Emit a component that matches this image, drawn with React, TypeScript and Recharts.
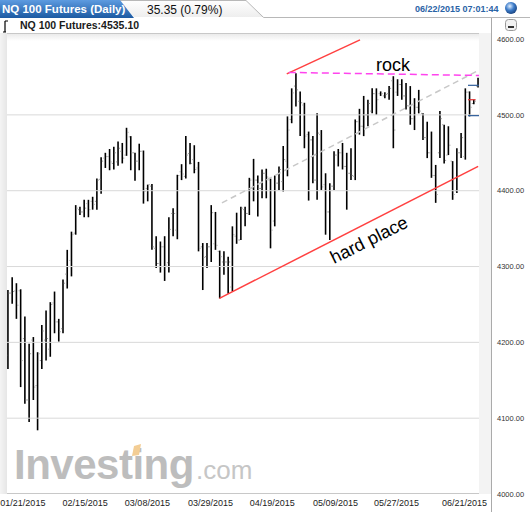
import { ComposedChart, Bar, XAxis, YAxis, ReferenceLine } from 'recharts';

// daily OHLC (index 0 = 01/21/2015)
const opens = [
  4183, 4265, 4268, 4268, 4205, 4124, 4203, 4143, 4176, 4203, 4191, 4252, 4227, 4218, 4290, 4308,
  4344, 4375, 4372, 4383, 4386, 4386, 4415, 4443, 4445, 4436, 4438, 4452, 4447, 4471, 4450, 4439,
  4452, 4403, 4406, 4324, 4304, 4326, 4305, 4370, 4348, 4425, 4419, 4449, 4441, 4430, 4326, 4313,
  4326, 4330, 4320, 4306, 4306, 4273, 4340, 4335, 4375, 4370, 4403, 4414, 4403, 4423, 4414, 4360,
  4410, 4412, 4439, 4494, 4538, 4518, 4513, 4474, 4467, 4414, 4474, 4408, 4372, 4406, 4447, 4450,
  4432, 4423, 4419, 4491, 4485, 4500, 4505, 4528, 4528, 4525, 4528, 4545, 4530, 4540, 4525, 4512,
  4495, 4510, 4502, 4470, 4450, 4420, 4450, 4487, 4447, 4439, 4400, 4450, 4445, 4530, 4515, 4538,
];
const highs = [
  4269, 4286, 4278, 4270, 4234, 4198, 4207, 4187, 4223, 4242, 4253, 4267, 4231, 4283, 4322, 4346,
  4381, 4379, 4388, 4388, 4392, 4416, 4444, 4450, 4455, 4458, 4465, 4463, 4483, 4472, 4450, 4462,
  4453, 4408, 4409, 4340, 4333, 4340, 4365, 4377, 4421, 4435, 4472, 4463, 4460, 4438, 4331, 4331,
  4381, 4372, 4321, 4320, 4313, 4353, 4371, 4379, 4379, 4417, 4442, 4420, 4428, 4429, 4416, 4420,
  4432, 4459, 4498, 4535, 4555, 4531, 4516, 4478, 4472, 4502, 4480, 4423, 4410, 4452, 4455, 4463,
  4450, 4456, 4494, 4508, 4525, 4520, 4535, 4535, 4531, 4530, 4538, 4551, 4547, 4547, 4542, 4538,
  4522, 4533, 4502, 4491, 4478, 4434, 4505, 4487, 4485, 4439, 4456, 4476, 4535, 4531, 4520, 4549,
];
const lows = [
  4165, 4251, 4231, 4141, 4119, 4095, 4124, 4084, 4165, 4176, 4181, 4212, 4201, 4212, 4271, 4287,
  4342, 4368, 4365, 4365, 4375, 4375, 4396, 4430, 4427, 4428, 4433, 4436, 4446, 4427, 4413, 4427,
  4383, 4386, 4322, 4298, 4292, 4281, 4292, 4340, 4336, 4414, 4416, 4435, 4423, 4320, 4269, 4298,
  4306, 4322, 4258, 4289, 4264, 4267, 4330, 4335, 4353, 4368, 4386, 4366, 4390, 4390, 4324, 4353,
  4401, 4399, 4419, 4489, 4511, 4472, 4456, 4387, 4410, 4388, 4401, 4342, 4335, 4401, 4432, 4428,
  4375, 4414, 4414, 4474, 4472, 4485, 4502, 4500, 4525, 4522, 4520, 4456, 4525, 4520, 4507, 4487,
  4480, 4502, 4467, 4443, 4417, 4384, 4443, 4436, 4447, 4388, 4397, 4443, 4441, 4498, 4514, 4536,
];
const closes = [
  4265, 4267, 4249, 4176, 4124, 4185, 4141, 4185, 4215, 4205, 4250, 4227, 4214, 4278, 4300, 4342,
  4377, 4372, 4377, 4375, 4382, 4414, 4439, 4445, 4438, 4450, 4456, 4443, 4477, 4450, 4439, 4452,
  4399, 4408, 4326, 4304, 4326, 4302, 4349, 4370, 4420, 4422, 4447, 4436, 4428, 4324, 4312, 4326,
  4371, 4328, 4313, 4306, 4306, 4342, 4335, 4377, 4370, 4414, 4414, 4403, 4423, 4418, 4348, 4410,
  4428, 4441, 4480, 4529, 4533, 4516, 4472, 4467, 4414, 4476, 4405, 4372, 4406, 4447, 4450, 4432,
  4423, 4420, 4491, 4485, 4500, 4515, 4528, 4520, 4528, 4527, 4535, 4480, 4540, 4525, 4512, 4495,
  4510, 4505, 4470, 4450, 4420, 4395, 4495, 4440, 4460, 4395, 4450, 4470, 4530, 4510, 4518, 4537,
];

// x-axis labels and the bar index where each sits
const dateLabels = ['01/21/2015', '02/15/2015', '03/08/2015', '03/29/2015', '04/19/2015', '05/09/2015', '05/27/2015', '06/21/2015'];
const dateTicks = [3.5, 18.2, 32.9, 47.8, 62.4, 77.3, 91.7, 107.8];
const priceTicks = [4000, 4100, 4200, 4300, 4400, 4500, 4600];
const gridValues = [4100, 4200, 4300, 4400, 4500];

// hand-drawn trend lines, in (bar index, price)
const upperRed = [{ x: 65.8, y: 4554 }, { x: 83.1, y: 4599 }];
const lowerRed = [{ x: 49.9, y: 4258 }, { x: 111.0, y: 4432 }];
const rockLine = [{ x: 66.3, y: 4556 }, { x: 111.2, y: 4552 }];
const greyLine = [{ x: 50.5, y: 4384 }, { x: 111.2, y: 4559 }];

const data = highs.map((h, i) => ({
  i,
  range: [lows[i], h],
  o: opens[i],
  h,
  l: lows[i],
  c: closes[i],
}));

const OhlcBar = (props: any) => {
  const { x, y, width, height, payload } = props;
  if (x == null || y == null || !payload) return null;
  const top = Math.min(y, y + height);
  const hh = Math.abs(height);
  const cx = x + width / 2;
  const span = payload.h - payload.l || 1;
  const yo = top + ((payload.h - payload.o) / span) * hh;
  const yc = top + ((payload.h - payload.c) / span) * hh;
  return (
    <g>
      <line x1={cx} x2={cx} y1={top} y2={top + hh} stroke="#000" strokeWidth={1.6} />
      <line x1={cx - 2} x2={cx - 0.8} y1={yo} y2={yo} stroke="#9a9a9a" strokeWidth={1} />
      <line x1={cx + 0.8} x2={cx + 2} y1={yc} y2={yc} stroke="#9a9a9a" strokeWidth={1} />
    </g>
  );
};

const fmtDate = (v: number) => {
  const k = dateTicks.indexOf(v);
  return k >= 0 ? dateLabels[k] : '';
};

export default function App() {
  return (
    <div style={{ position: 'absolute', left: 0, top: 0, width: 530, height: 512, fontFamily: '"Liberation Sans", Arial, sans-serif', background: '#fff' }}>
      {/* background: header, frame, watermark */}
      <svg width={530} height={512} style={{ position: 'absolute', left: 0, top: 0 }}>
        <defs>
          <linearGradient id="tab" x1="0" y1="0" x2="0" y2="1">
            <stop offset="0" stopColor="#5d9be0" />
            <stop offset="1" stopColor="#1c5aa2" />
          </linearGradient>
          <linearGradient id="tab2" x1="0" y1="0" x2="0" y2="1">
            <stop offset="0" stopColor="#ffffff" />
            <stop offset="1" stopColor="#eeeeee" />
          </linearGradient>
          <linearGradient id="topfade" x1="0" y1="0" x2="0" y2="1">
            <stop offset="0" stopColor="#e8e8e8" />
            <stop offset="1" stopColor="#ffffff" />
          </linearGradient>
          <linearGradient id="leftfade" x1="0" y1="0" x2="1" y2="0">
            <stop offset="0" stopColor="#f4f4f4" />
            <stop offset="1" stopColor="#e6e6e6" />
          </linearGradient>
          <radialGradient id="ball" cx="0.4" cy="0.35" r="0.7">
            <stop offset="0" stopColor="#dfeeff" />
            <stop offset="0.5" stopColor="#3d7cc9" />
            <stop offset="1" stopColor="#173f7a" />
          </radialGradient>
        </defs>
        <path d="M120,0 H246 L264,17 H134 Z" fill="url(#tab2)" />
        <path d="M120,0.5 H246 L263.5,17.5 H530" stroke="#b8b8b8" fill="none" />
        <path d="M0,0 H120 L134,18 H0 Z" fill="url(#tab)" />
        <text x={2} y={13} fill="#fff" fontSize={11.5} fontWeight="bold">NQ 100 Futures (Daily)</text>
        <text x={147} y={14} fill="#111" fontSize={12}>35.35 (0.79%)</text>
        <text x={415} y={12} fill="#2a63a6" fontSize={9} fontWeight="bold">06/22/2015 07:01:44</text>
        <circle cx={511} cy={8} r={6} fill="url(#ball)" />
        {/* second row */}
        <path d="M5,21 V32 M5,21 H8 M3,32 H6" stroke="#000" strokeWidth={1.2} fill="none" />
        <text x={20} y={29} fill="#1a1a1a" fontSize={10.5} fontWeight="bold">NQ 100 Futures:4535.10</text>
        <rect x={505.5} y={19.5} width={11} height={11} rx={3} fill="#f2f2f2" stroke="#9a9a9a" />
        <line x1={508} x2={514} y1={27} y2={27} stroke="#333" strokeWidth={2} />
        {/* plot frame */}
        <rect x={0} y={33} width={7} height={461} fill="url(#leftfade)" />
        <rect x={7} y={33} width={472} height={8} fill="url(#topfade)" />
        <rect x={479} y={33} width={13} height={461} fill="#f3f3f3" />
        <line x1={7} x2={479} y1={33.5} y2={33.5} stroke="#c8c8c8" />
        <line x1={7} x2={479} y1={493.5} y2={493.5} stroke="#c8c8c8" />
        <line x1={491.5} x2={491.5} y1={18} y2={512} stroke="#aaaaaa" />
        {/* watermark */}
        <text x={14} y={479} fill="#bdbdbd" fontSize={42} fontWeight="bold" letterSpacing={-0.5}>Investing</text>
        <text x={196} y={479} fill="#c6c6c6" fontSize={26}>.com</text>
        <path d="M134,446 L141,444 L139,455 L132,456 Z" fill="#f3cd94" />
      </svg>

      <ComposedChart
        width={530}
        height={512}
        data={data}
        margin={{ top: 33, right: 6, bottom: 0, left: 7 }}
        style={{ position: 'absolute', left: 0, top: 0 }}
      >
        <XAxis
          type="number"
          dataKey="i"
          domain={[-0.25, 111.2]}
          allowDataOverflow
          ticks={dateTicks}
          interval={0}
          tickFormatter={fmtDate}
          tick={{ fill: '#222', fontSize: 9 }}
          tickLine={false}
          axisLine={false}
          tickSize={0}
          tickMargin={6}
          height={18}
        />
        <YAxis
          orientation="right"
          domain={[4000, 4608]}
          allowDataOverflow
          ticks={priceTicks}
          interval={0}
          tickFormatter={(v: number) => v.toFixed(2)}
          tick={{ fill: '#333', fontSize: 7.5 }}
          tickLine={false}
          axisLine={false}
          tickSize={0}
          tickMargin={18}
          width={45}
        />
        {gridValues.map((g) => (
          <ReferenceLine key={g} y={g} stroke="#d9d9d9" strokeWidth={1} />
        ))}
        <ReferenceLine segment={greyLine} stroke="#c8c8c8" strokeWidth={1.5} strokeDasharray="6 4" ifOverflow="visible" />
        <Bar dataKey="range" barSize={2} shape={<OhlcBar />} isAnimationActive={false} />
        <ReferenceLine segment={upperRed} stroke="#ff4040" strokeWidth={1.5} ifOverflow="visible" />
        <ReferenceLine segment={lowerRed} stroke="#ff4040" strokeWidth={1.5} ifOverflow="visible" />
        <ReferenceLine segment={rockLine} stroke="#ff44ee" strokeWidth={1.5} strokeDasharray="7 4" ifOverflow="visible" />
        <ReferenceLine segment={[{ x: 108.6, y: 4539 }, { x: 111.2, y: 4539 }]} stroke="#2e5d9a" strokeWidth={1.2} ifOverflow="visible" />
        <ReferenceLine segment={[{ x: 108.6, y: 4499 }, { x: 111.2, y: 4499 }]} stroke="#2e5d9a" strokeWidth={1.2} ifOverflow="visible" />
        <ReferenceLine segment={[{ x: 108.6, y: 4520 }, { x: 110.4, y: 4520 }]} stroke="#e03030" strokeWidth={1.2} ifOverflow="visible" />
      </ComposedChart>

      {/* annotations */}
      <svg width={530} height={512} style={{ position: 'absolute', left: 0, top: 0, pointerEvents: 'none' }}>
        <text x={393} y={71} textAnchor="middle" fontSize={18} fill="#000">rock</text>
        <text x={369} y={246} textAnchor="middle" fontSize={18} fill="#000" transform="rotate(-26.5 369 240)">hard place</text>
      </svg>
    </div>
  );
}
